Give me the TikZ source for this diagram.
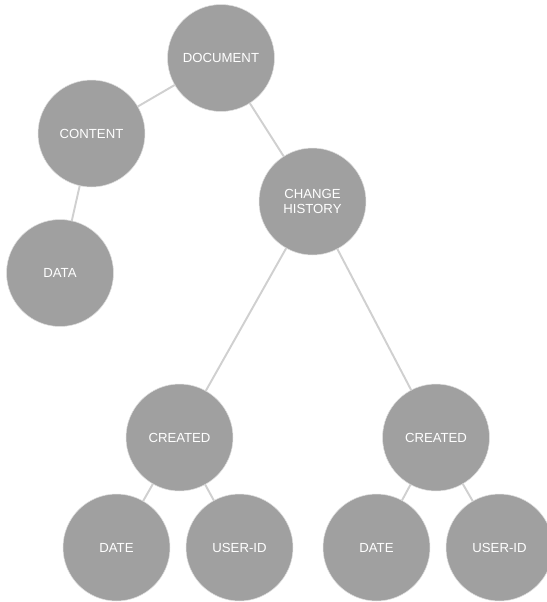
\documentclass[tikz,border=0pt]{standalone}
\usepackage{fontspec}
\setmainfont{Liberation Sans}
\usepackage{tikz}
\definecolor{qqgray}{rgb}{0.6274509803921569,0.6274509803921569,0.6274509803921569}
\definecolor{ccline}{rgb}{0.8156862745098039,0.8156862745098039,0.8156862745098039}
\definecolor{eeedge}{rgb}{0.8784313725490196,0.8784313725490196,0.8784313725490196}
\tikzset{
  bubble/.style={circle,fill=qqgray,draw=eeedge,line width=0.3pt,minimum size=2.14cm,inner sep=0pt,
    text=white,align=center,font=\fontsize{7.5}{8.5}\selectfont},
  link/.style={line width=1.1pt,color=ccline}
}
\begin{document}
\begin{tikzpicture}[line cap=round,line join=round,x=0.02cm,y=-0.02cm]
\useasboundingbox (0,0) rectangle (547,602);
%\draw [color=ccline, xstep=50,ystep=50] (0,0) grid (547,602);
\node [bubble] (document) at (221,58) {DOCUMENT};
\node [bubble] (content) at (91.5,133.5) {CONTENT};
\node [bubble] (data) at (60,273) {DATA};
\node [bubble] (history) at (312.5,201.5) {CHANGE\\HISTORY};
\node [bubble] (createdL) at (179.5,437.5) {CREATED};
\node [bubble] (createdR) at (436,437.5) {CREATED};
\node [bubble] (dateL) at (116.5,547.5) {DATE};
\node [bubble] (userL) at (239.5,547.5) {USER-ID};
\node [bubble] (dateR) at (376.5,547.5) {DATE};
\node [bubble] (userR) at (499.5,547.5) {USER-ID};
\draw [link] (document) -- (content);
\draw [link] (document) -- (history);
\draw [link] (content) -- (data);
\draw [link] (history) -- (createdL);
\draw [link] (history) -- (createdR);
\draw [link] (createdL) -- (dateL);
\draw [link] (createdL) -- (userL);
\draw [link] (createdR) -- (dateR);
\draw [link] (createdR) -- (userR);
\end{tikzpicture}
\end{document}
